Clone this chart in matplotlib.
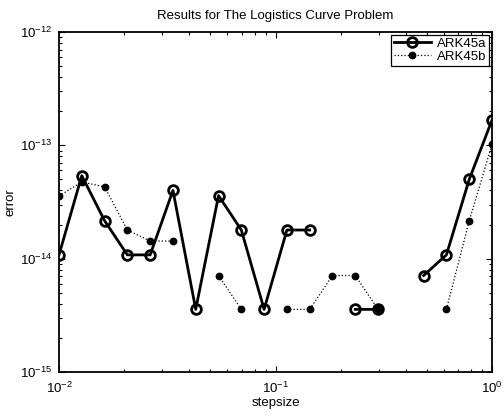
import numpy as np
import matplotlib
matplotlib.use('Agg')
import matplotlib.pyplot as plt
from matplotlib.ticker import FixedLocator, LogLocator, NullFormatter

# step sizes (20 log-spaced values between 1e-2 and 1)
stepsize = [0.01, 0.01274, 0.01624, 0.02069, 0.02637, 0.03360, 0.04281, 0.05456,
            0.06952, 0.08859, 0.1129, 0.1438, 0.1833, 0.2336, 0.2976, 0.3793,
            0.4833, 0.6158, 0.7848, 1.0]

nan = np.nan
err_a = [1.08e-14, 5.4e-14, 2.16e-14, 1.08e-14, 1.08e-14, 4.0e-14, 3.57e-15, 3.6e-14,
         1.79e-14, 3.57e-15, 1.79e-14, 1.79e-14, nan, 3.57e-15, 3.57e-15, nan,
         7.1e-15, 1.08e-14, 5.0e-14, 1.67e-13]
err_b = [3.57e-14, 4.75e-14, 4.3e-14, 1.79e-14, 1.43e-14, 1.43e-14, nan, 7.1e-15,
         3.57e-15, nan, 3.57e-15, 3.57e-15, 7.1e-15, 7.1e-15, 3.57e-15, nan,
         nan, 3.57e-15, 2.15e-14, 1.02e-13]

xticks = [1e-2, 1e-1, 1e0]
xticklabels = ['$10^{-2}$', '$10^{-1}$', '$10^{0}$']
yticks = [1e-15, 1e-14, 1e-13, 1e-12]
yticklabels = ['$10^{-15}$', '$10^{-14}$', '$10^{-13}$', '$10^{-12}$']

plt.rcParams['font.family'] = ['Liberation Sans', 'DejaVu Sans']
plt.rcParams['mathtext.fontset'] = 'custom'
plt.rcParams['mathtext.rm'] = 'Liberation Sans'
plt.rcParams['mathtext.it'] = 'Liberation Sans'

fs = 9.5

fig = plt.figure(figsize=(5.04, 4.16), dpi=100)
ax = fig.add_axes([59 / 504, 1 - 372 / 416, 433 / 504, 340 / 416])

ax.plot(stepsize, err_a, '-', color='black', lw=2.0, marker='o', ms=7,
        mfc='none', mec='black', mew=2.0, label='ARK45a')
ax.plot(stepsize, err_b, ':', color='black', lw=0.9, marker='o', ms=4.6,
        mfc='black', mec='black', label='ARK45b')

ax.set_xscale('log')
ax.set_yscale('log')
ax.set_xlim(1e-2, 1)
ax.set_ylim(1e-15, 1e-12)
ax.xaxis.set_major_locator(FixedLocator(xticks))
ax.set_xticklabels(xticklabels)
ax.yaxis.set_major_locator(FixedLocator(yticks))
ax.set_yticklabels(yticklabels)
ax.xaxis.set_minor_locator(LogLocator(base=10, subs=np.arange(2, 10)))
ax.yaxis.set_minor_locator(LogLocator(base=10, subs=np.arange(2, 10)))
ax.xaxis.set_minor_formatter(NullFormatter())
ax.yaxis.set_minor_formatter(NullFormatter())

ax.tick_params(which='both', direction='in', top=True, right=True,
               labelsize=fs, width=0.8)
ax.tick_params(which='major', length=4)
ax.tick_params(which='minor', length=2.5)
ax.tick_params(axis='x', pad=6)
ax.tick_params(axis='y', pad=5)
for s in ax.spines.values():
    s.set_linewidth(1.3)

ax.set_title('Results for The Logistics Curve Problem', fontsize=fs, pad=9)
ax.set_xlabel('stepsize', fontsize=fs, labelpad=1)
ax.set_ylabel('error', fontsize=fs)
ax.yaxis.set_label_coords(-0.097, 0.5)

leg = ax.legend(loc='upper right', fontsize=fs, fancybox=False, framealpha=1,
                edgecolor='black', borderaxespad=0.2, handlelength=2.8,
                handletextpad=0.5, borderpad=0.2, labelspacing=0.1)
leg.get_frame().set_linewidth(0.9)

fig.savefig('out.png', dpi=100)
